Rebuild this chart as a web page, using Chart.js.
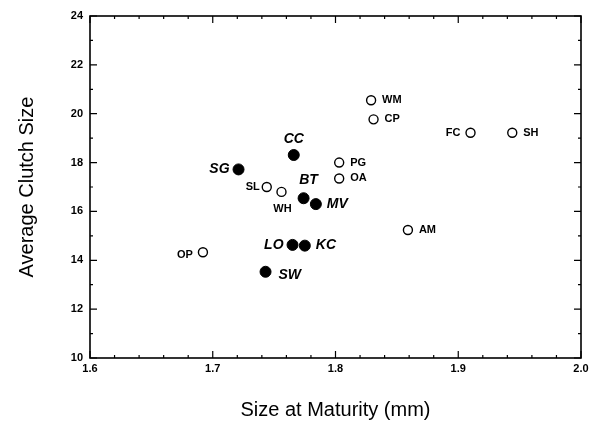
<!DOCTYPE html>
<html>
<head>
<meta charset="utf-8">
<script src="https://cdn.jsdelivr.net/npm/chart.js@4"></script>
<style>
  html, body { margin: 0; padding: 0; background: #fff; }
  #wrap { width: 600px; height: 425px; }
</style>
</head>
<body>
<div id="wrap"><canvas id="clutch-chart" width="600" height="425"></canvas></div>
<script>
// open circles
const openNames = ['PG', 'OA', 'SL', 'WH', 'OP', 'WM', 'CP', 'FC', 'SH', 'AM'];
const openSize = [1.803, 1.803, 1.744, 1.756, 1.692, 1.829, 1.831, 1.910, 1.944, 1.859];
const openClutch = [18.0, 17.35, 17.0, 16.8, 14.33, 20.55, 19.77, 19.22, 19.22, 15.24];

// filled circles
const filledNames = ['CC', 'SG', 'BT', 'MV', 'LO', 'KC', 'SW'];
const filledSize = [1.766, 1.721, 1.774, 1.784, 1.765, 1.775, 1.743];
const filledClutch = [18.31, 17.72, 16.54, 16.30, 14.63, 14.60, 13.53];

const xTicks = [1.6, 1.7, 1.8, 1.9, 2.0];
const yTicks = [10, 12, 14, 16, 18, 20, 22, 24];

// where each label sits relative to its point
const labelSide = {
  PG: 'right', OA: 'right', SL: 'left', WH: 'below', OP: 'left', WM: 'right', CP: 'right',
  FC: 'left', SH: 'right', AM: 'right',
  CC: 'above', SG: 'left', BT: 'aboveleft', MV: 'right', LO: 'left', KC: 'right', SW: 'rightlow'
};

const FONT = "'Liberation Sans', Arial, sans-serif";

function toPoints(xs, ys) {
  return xs.map((x, i) => ({ x: x, y: ys[i] }));
}

// frame + inward ticks, and point labels
const framePlugin = {
  id: 'frame',
  afterDatasetsDraw(chart) {
    const ctx = chart.ctx;
    const a = chart.chartArea;
    const xs = chart.scales.x, ys = chart.scales.y;
    ctx.save();
    ctx.strokeStyle = '#000';
    ctx.lineWidth = 1.6;
    ctx.strokeRect(a.left, a.top, a.right - a.left, a.bottom - a.top);
    ctx.lineWidth = 1.2;
    ctx.beginPath();
    for (let v = 160; v <= 200; v += 2) {
      const px = xs.getPixelForValue(v / 100);
      const len = v % 10 === 0 ? 7 : 3;
      ctx.moveTo(px, a.bottom); ctx.lineTo(px, a.bottom - len);
      ctx.moveTo(px, a.top); ctx.lineTo(px, a.top + len);
    }
    for (let v = 10; v <= 24; v += 1) {
      const py = ys.getPixelForValue(v);
      const len = v % 2 === 0 ? 7 : 3;
      ctx.moveTo(a.left, py); ctx.lineTo(a.left + len, py);
      ctx.moveTo(a.right, py); ctx.lineTo(a.right - len, py);
    }
    ctx.stroke();

    ctx.fillStyle = '#000';
    chart.data.datasets.forEach((ds, di) => {
      const meta = chart.getDatasetMeta(di);
      const filled = di === 1;
      ctx.font = filled ? 'italic bold 14px ' + FONT : 'bold 11px ' + FONT;
      meta.data.forEach((el, i) => {
        const name = ds.names[i];
        const side = labelSide[name];
        let tx = el.x, ty = el.y;
        ctx.textBaseline = 'middle';
        if (side === 'right') { ctx.textAlign = 'left'; tx += 11; }
        else if (side === 'left') { ctx.textAlign = 'right'; tx -= filled ? 9 : 10; }
        else if (side === 'above') { ctx.textAlign = 'center'; ty -= 16; }
        else if (side === 'below') { ctx.textAlign = 'center'; ty += 17; tx += 1; }
        else if (side === 'aboveleft') { ctx.textAlign = 'center'; ty -= 18; tx += 5; }
        else if (side === 'rightlow') { ctx.textAlign = 'left'; tx += 13; ty += 3; }
        if (name === 'SL') tx += 3;
        if (name === 'OP') ty += 3;
        ctx.fillText(name, tx, ty);
      });
    });
    ctx.restore();
  }
};

const clutchCanvas = document.getElementById('clutch-chart');

const clutchData = {
  datasets: [{
    label: 'open',
    names: openNames,
    data: toPoints(openSize, openClutch),
    pointStyle: 'circle',
    pointRadius: 4.5,
    backgroundColor: '#fff',
    borderColor: '#000',
    borderWidth: 1.4
  }, {
    label: 'filled',
    names: filledNames,
    data: toPoints(filledSize, filledClutch),
    pointStyle: 'circle',
    pointRadius: 5.5,
    backgroundColor: '#000',
    borderColor: '#000',
    borderWidth: 1
  }]
};

const clutchOptions = {
  responsive: false,
  animation: false,
  layout: { padding: { left: 0, right: 19, top: 16, bottom: 0 } },
  scales: {
    x: {
      type: 'linear',
      min: 1.6,
      max: 2.0,
      afterFit(scale) { scale.height = 67; },
      afterBuildTicks(scale) { scale.ticks = xTicks.map(v => ({ value: v })); },
      grid: { display: false, drawTicks: false },
      border: { display: false },
      ticks: {
        padding: 4,
        color: '#000',
        font: { family: FONT, size: 11, weight: 'bold' },
        callback: v => v.toFixed(1)
      },
      title: {
        display: true,
        text: 'Size at Maturity (mm)',
        color: '#000',
        font: { family: FONT, size: 20 },
        padding: { top: 0, bottom: 3 }
      }
    },
    y: {
      type: 'linear',
      min: 10,
      max: 24,
      afterFit(scale) { scale.width = 90; },
      afterBuildTicks(scale) { scale.ticks = yTicks.map(v => ({ value: v })); },
      grid: { display: false, drawTicks: false },
      border: { display: false },
      ticks: {
        padding: 7,
        color: '#000',
        font: { family: FONT, size: 11, weight: 'bold' },
        callback: v => String(v)
      },
      title: {
        display: true,
        text: 'Average Clutch Size',
        color: '#000',
        font: { family: FONT, size: 20 },
        padding: { top: 15, bottom: 0 }
      }
    }
  },
  plugins: {
    legend: { display: false },
    tooltip: { enabled: false }
  }
};

let clutchChart = new Chart(clutchCanvas, {
  type: 'scatter',
  data: clutchData,
  options: clutchOptions,
  plugins: [framePlugin]
});
</script>
</body>
</html>
